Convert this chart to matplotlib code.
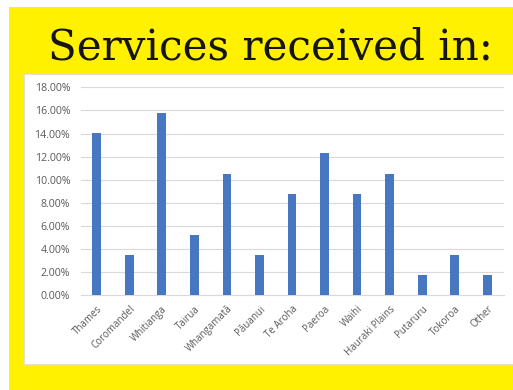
import matplotlib
matplotlib.use("Agg")
import matplotlib.pyplot as plt
from matplotlib.patches import Rectangle
from matplotlib.ticker import FuncFormatter, MultipleLocator

categories = ["Thames", "Coromandel", "Whitianga", "Tairua", "Whangamatā", "Pāuanui",
              "Te Aroha", "Paeroa", "Waihi", "Hauraki Plains", "Putaruru", "Tokoroa", "Other"]
values = [14.04, 3.51, 15.79, 5.26, 10.53, 3.51, 8.77, 12.28, 8.77, 10.53, 1.75, 3.51, 1.75]
title = "Services received in:"

W, H = 513, 390
fig = plt.figure(figsize=(W / 100, H / 100), dpi=100)
fig.patch.set_facecolor("white")

def px(x0, y0, x1, y1):
    return [x0 / W, 1 - y1 / H, (x1 - x0) / W, (y1 - y0) / H]

# yellow background
fig.patches.append(Rectangle((9 / W, 0), 1 - 9 / W, 1 - 7 / H, transform=fig.transFigure,
                             facecolor="#FFF100", edgecolor="none", zorder=-2))
# white panel
fig.patches.append(Rectangle((24 / W, 1 - 364 / H), 1 - 24 / W, (364 - 74) / H,
                             transform=fig.transFigure, facecolor="white",
                             edgecolor="#dddddd", linewidth=0.6, zorder=-1))

t = fig.text(271 / W, 1 - 59 / H, title, ha="center", va="baseline",
             family="DejaVu Serif", fontsize=40, color="#151515")
fig.canvas.draw()
bb = t.get_window_extent()
t.set_fontsize(40 * 443 / bb.width)

ax = fig.add_axes(px(80.5, 87.3, 503.5, 295.3))
ax.set_zorder(2)
ax.set_facecolor("none")
x = range(len(categories))
ax.bar(x, values, width=0.27, color="#4677C0", zorder=3)
ax.set_xlim(-0.5, len(categories) - 0.5)
ax.set_ylim(0, 18)
ax.yaxis.set_major_locator(MultipleLocator(2))
ax.yaxis.set_major_formatter(FuncFormatter(lambda v, p: f"{v:.2f}%"))
ax.grid(axis="y", color="#d9d9d9", linewidth=0.8, zorder=0)
for s in ["top", "right", "left"]:
    ax.spines[s].set_visible(False)
ax.spines["bottom"].set_color("#d9d9d9")
ax.tick_params(axis="y", length=0, labelsize=7.6, colors="#595959", pad=7.5)
ax.tick_params(axis="x", length=0, labelsize=7.0, colors="#595959", pad=6)
ax.set_xticks(list(x))
ax.set_xticklabels(categories, rotation=45, ha="right", rotation_mode="anchor")
for lab in ax.get_xticklabels() + ax.get_yticklabels():
    lab.set_family("Open Sans")

fig.savefig("out.png", dpi=100)
